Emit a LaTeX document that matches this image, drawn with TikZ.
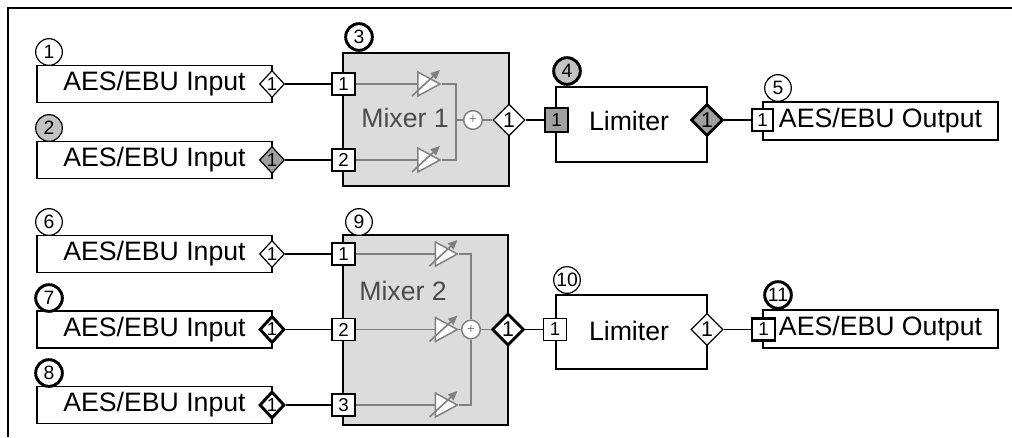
\documentclass[tikz,border=0pt]{standalone}
\usepackage{fontspec}
\setmainfont{Liberation Sans}
\usetikzlibrary{arrows.meta,shapes.geometric}
\definecolor{mixgray}{RGB}{220,220,220}
\definecolor{siggray}{RGB}{128,128,128}
\definecolor{txtgray}{RGB}{75,75,75}
\definecolor{tagfill}{RGB}{195,195,195}
\definecolor{selfill}{RGB}{160,160,160}

\begin{document}
\begin{tikzpicture}[x=0.75pt, y=-0.75pt,
  inbox/.style={draw, line width=1.2pt, minimum width=176.25pt, minimum height=27.75pt,
                inner sep=0pt, font=\fontsize{20}{24}\selectfont},
  outbox/.style={inbox, minimum height=28.5pt},
  mixbox/.style={draw, line width=1.2pt, fill=mixgray, inner sep=0pt},
  limbox/.style={draw, line width=1.2pt, fill=white, minimum width=113.25pt, inner sep=0pt},
  port/.style={draw, line width=0.9pt, fill=white, minimum width=17.25pt, minimum height=16.5pt,
               inner sep=0pt, font=\fontsize{14}{15}\selectfont},
  pin/.style={draw, diamond, line width=0.9pt, fill=white, minimum width=18.75pt,
              minimum height=20.25pt, inner sep=0pt, font=\fontsize{14}{15}\selectfont},
  pout/.style={pin, minimum width=24pt, minimum height=24pt, font=\fontsize{16}{17}\selectfont},
  tag/.style={draw, circle, line width=0.9pt, fill=white, minimum size=20pt, inner sep=0pt,
              font=\fontsize{14.5}{15}\selectfont},
  sel/.style={line width=2.2pt},
  amp/.style={draw=siggray, isosceles triangle, isosceles triangle stretches, fill=white,
              line width=1.1pt, minimum width=18pt, minimum height=16.5pt, inner sep=0pt},
  sum/.style={draw=siggray, circle, fill=white, line width=1.1pt, minimum size=14pt, inner sep=0pt,
              text=siggray, font=\fontsize{10}{10}\selectfont},
  sig/.style={draw=siggray, line width=1.4pt},
  gain/.style={siggray, line width=1.2pt, -{Triangle[length=7pt,width=6pt]}},
  wire/.style={line width=1.1pt},
  lbl/.style={font=\fontsize{20}{24}\selectfont}
]
  \useasboundingbox (0,0) rectangle (1012,437);
  \draw[line width=1.3pt] (1012,8) -- (8,8) -- (8,437);

  \node[tag] (t1) at (49,52) {1};
  \node[inbox] (in1) at (154.5,84) {AES/EBU Input};
  \node[pin] (d1) at (272,84) {1};
  \node[tag, fill=tagfill] (t2) at (49,128) {2};
  \node[inbox] (in2) at (154.5,160) {AES/EBU Input};
  \node[pin, fill=selfill] (d2) at (272,160) {1};

  \node[mixbox, minimum width=124.5pt, minimum height=99.75pt] (mix1) at (426,119.5) {};
  \node[tag, sel] (t3) at (359,37) {3};
  \node[lbl, text=txtgray] (mix1lbl) at (405,118) {Mixer 1};
  \node[port] (m1p1) at (343.5,84) {1};
  \node[port] (m1p2) at (343.5,160) {2};
  \node[amp] (a11) at (425,84) {};
  \node[amp] (a12) at (425,160) {};
  \node[sum] (s1) at (473,120) {+};
  \node[pout] (m1o) at (509,120) {1};
  \coordinate (m1bus) at (456,120);

  \node[limbox, minimum height=56.25pt] (lim1) at (631.5,124.5) {};
  \node[tag, sel, fill=tagfill] (t4) at (567,71) {4};
  \node[lbl] (lim1lbl) at (629,121) {Limiter};
  \node[port, sel, fill=selfill, minimum height=18pt] (l1p) at (556.5,120) {1};
  \node[pout, sel, fill=selfill] (l1o) at (707,120) {1};

  \node[outbox] (out1) at (880.5,121) {AES/EBU Output};
  \node[tag] (t5) at (778,88) {5};
  \node[port, minimum width=15.75pt] (o1p) at (762.5,120) {1};

  \draw[wire] (d1) -- (m1p1);
  \draw[wire] (d2) -- (m1p2);
  \draw[wire] (m1o) -- (l1p);
  \draw[wire] (l1o) -- (o1p);

  \draw[sig] (m1p1) -- (a11);
  \draw[sig] (m1p2) -- (a12);
  \draw[sig] (a11.east) -| (m1bus) |- (a12.east);
  \draw[sig] (m1bus) -- (s1) -- (m1o);
  \foreach \a in {a11,a12}
    \draw[gain] ([shift={(-13,12)}]\a.center) -- ++(28,-26);

  \node[tag] (t6) at (49,222) {6};
  \node[inbox] (in6) at (154.5,254) {AES/EBU Input};
  \node[pin] (d6) at (272,254) {1};
  \node[tag, sel] (t7) at (49,298) {7};
  \node[inbox] (in7) at (154.5,329.5) {AES/EBU Input};
  \node[pin, sel] (d7) at (272,329.5) {1};
  \node[tag, sel] (t8) at (49,373) {8};
  \node[inbox] (in8) at (154.5,405) {AES/EBU Input};
  \node[pin, sel] (d8) at (272,405) {1};

  \node[mixbox, minimum width=123.75pt, minimum height=142.5pt] (mix2) at (425.5,330) {};
  \node[tag] (t9) at (359,222) {9};
  \node[lbl, text=txtgray] (mix2lbl) at (403,291) {Mixer 2};
  \node[port] (m2p1) at (343.5,254) {1};
  \node[port] (m2p2) at (343.5,329.5) {2};
  \node[port] (m2p3) at (343.5,405) {3};
  \node[amp] (a21) at (442.5,254) {};
  \node[amp] (a22) at (442.5,329.5) {};
  \node[amp] (a23) at (442.5,405) {};
  \node[sum] (s2) at (471,329.5) {+};
  \node[pout, sel] (m2o) at (508,329.5) {1};

  \node[limbox, minimum height=55.5pt] (lim2) at (631.5,332) {};
  \node[tag] (t10) at (567,280) {10};
  \node[lbl] (lim2lbl) at (629,331) {Limiter};
  \node[port] (l2p) at (555,329.5) {1};
  \node[pout] (l2o) at (707,329.5) {1};

  \node[outbox] (out2) at (880.5,329) {AES/EBU Output};
  \node[tag, sel] (t11) at (778,295) {11};
  \node[port, sel] (o2p) at (763.5,329.5) {1};

  \draw[wire] (d6) -- (m2p1);
  \draw[wire] (d7) -- (m2p2);
  \draw[wire] (d8) -- (m2p3);
  \draw[wire] (m2o) -- (l2p);
  \draw[wire] (l2o) -- (o2p);

  \draw[sig] (m2p1) -- (a21);
  \draw[sig] (m2p2) -- (a22);
  \draw[sig] (m2p3) -- (a23);
  \draw[sig] (a21.east) -| (s2);
  \draw[sig] (a23.east) -| (s2);
  \draw[sig] (a22) -- (s2);
  \draw[sig] (s2) -- (m2o);
  \foreach \a in {a21,a22,a23}
    \draw[gain] ([shift={(-13,12)}]\a.center) -- ++(28,-26);
\end{tikzpicture}
\end{document}
